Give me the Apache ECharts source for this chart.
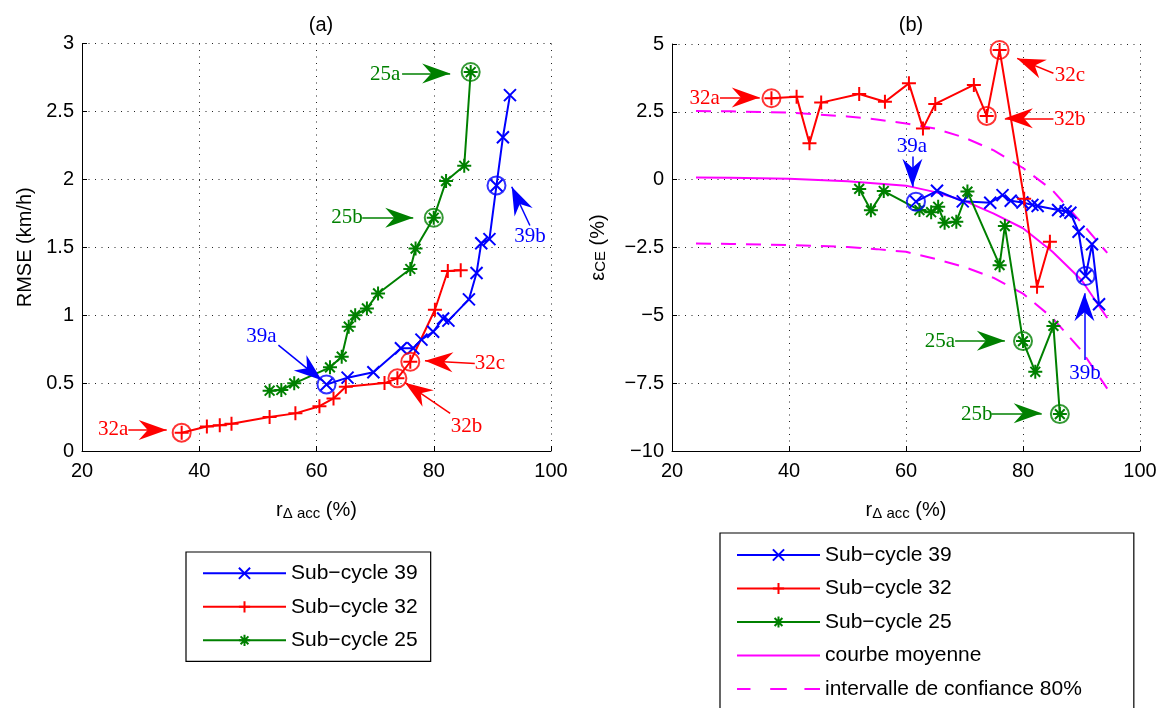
<!DOCTYPE html>
<html><head><meta charset="utf-8">
<script src="https://cdn.jsdelivr.net/npm/echarts@6/dist/echarts.min.js"></script>
<style>html,body{margin:0;padding:0;background:#fff;overflow:hidden;width:1167px;height:708px}#c{width:1167px;height:780px}</style>
</head><body><div id="c"></div>
<script>
// ---------- data ----------
const xTicks = [20, 40, 60, 80, 100];
// Sub-cycle 39
const x39 = [61.7, 65.3, 69.7, 74.4, 76.5, 77.9, 79.9, 81.6, 82.5, 86.0, 87.3, 88.1, 89.5, 90.7, 91.8, 93.0];
const rmse39 = [0.49, 0.54, 0.58, 0.756, 0.756, 0.82, 0.878, 0.976, 0.96, 1.116, 1.31, 1.53, 1.56, 1.955, 2.31, 2.62];
const ece39 = [-0.81, -0.41, -0.80, -0.85, -0.57, -0.78, -0.84, -0.93, -0.97, -1.12, -1.17, -1.22, -1.92, -3.55, -2.38, -4.59];
const mark39 = [0, 13];
// Sub-cycle 32
const x32 = [37.0, 41.3, 43.5, 45.5, 52.0, 56.4, 60.5, 62.9, 65.0, 71.6, 73.8, 76.0, 80.2, 82.4, 84.6];
const rmse32 = [0.135, 0.18, 0.19, 0.20, 0.25, 0.277, 0.33, 0.387, 0.473, 0.50, 0.535, 0.657, 1.04, 1.325, 1.33];
const ece32 = [3.0, 3.06, 1.34, 2.84, 3.16, 2.87, 3.55, 1.89, 2.79, 3.49, 2.35, 4.78, -0.70, -3.95, -2.29];
const mark32 = [0, 10, 11];
// Sub-cycle 25
const x25 = [52.0, 54.0, 56.2, 62.3, 64.3, 65.5, 66.6, 68.6, 70.5, 76.0, 76.9, 80.0, 82.1, 85.2, 86.3];
const rmse25 = [0.444, 0.449, 0.498, 0.616, 0.694, 0.915, 1.0, 1.05, 1.16, 1.34, 1.49, 1.717, 1.987, 2.10, 2.79];
const ece25 = [-0.34, -1.13, -0.42, -1.12, -1.2, -1.0, -1.59, -1.55, -0.44, -3.15, -1.71, -5.95, -7.08, -5.39, -8.64];
const mark25 = [11, 14];
// mean curve and 80% confidence interval
const xFit = [24.1, 30, 40, 50, 55, 60, 65, 70, 75, 80, 85, 90, 94.4];
const meanFit = [0.08, 0.07, 0.03, -0.06, -0.14, -0.22, -0.46, -0.78, -1.25, -1.79, -2.65, -3.7, -5.1];
const upperFit = [2.53, 2.52, 2.47, 2.33, 2.22, 2.07, 1.88, 1.55, 1.08, 0.43, -0.38, -1.59, -2.7];
const lowerFit = [-2.35, -2.37, -2.41, -2.48, -2.56, -2.66, -2.92, -3.22, -3.62, -4.2, -5.09, -6.3, -7.7];
// annotations (text centre, arrow start, arrow tip) in data units
const notesA39 = [['39a', [50.6, 0.84], [53.5, 0.78], [60.9, 0.52]], ['39b', [96.4, 1.577], [96.4, 1.66], [93.3, 1.945]]];
const notesA32 = [['32a', [25.3, 0.155], [27.9, 0.155], [34.45, 0.155]], ['32b', [85.6, 0.179], [82.8, 0.277], [75.1, 0.503]], ['32c', [89.6, 0.645], [87.0, 0.645], [78.5, 0.664]]];
const notesA25 = [['25a', [71.7, 2.774], [74.6, 2.78], [82.8, 2.78]], ['25b', [65.2, 1.717], [67.8, 1.717], [76.5, 1.717]]];
const notesB39 = [['39a', [61.0, 1.21], [61.1, 0.85], [61.1, -0.26]], ['39b', [90.6, -7.14], [90.5, -6.65], [90.5, -4.19]]];
const notesB32 = [['32a', [25.6, 3.0], [28.2, 3.03], [35.0, 3.03]], ['32b', [88.0, 2.22], [85.2, 2.26], [76.9, 2.26]], ['32c', [88.0, 3.857], [85.2, 3.92], [79.0, 4.47]]];
const notesB25 = [['25a', [65.8, -5.97], [68.4, -5.94], [76.9, -5.94]], ['25b', [72.1, -8.64], [74.6, -8.61], [83.2, -8.61]]];

// ---------- styling helpers ----------
const BLUE = '#0000ff', RED = '#ff0000', GREEN = '#008000', MAG = '#ff00ff';
const SYM_X = 'path://M0,0L10,10M10,0L0,10';
const SYM_P = 'path://M5,0L5,10M0,5L10,5';
const SYM_S = 'path://M5,0L5,10M0,5L10,5M1.5,1.5L8.5,8.5M8.5,1.5L1.5,8.5';
const ICON_SOLID = 'path://M0,0h80v2h-80Z';
const ICON_DASH = 'path://M0,0h13v2h-13Z M32,0h16v2h-16Z M65,0h15v2h-15Z';
const ARROW = 'path://M0,-28 M0,0 L10,28 L0,19 L-10,28 Z';
const MINUS = '\u2212';
const N39 = 'Sub' + MINUS + 'cycle 39', N32 = 'Sub' + MINUS + 'cycle 32', N25 = 'Sub' + MINUS + 'cycle 25';
const NMEAN = 'courbe moyenne', NCI = 'intervalle de confiance 80%';
const zip = (xs, ys) => xs.map((x, i) => [x, ys[i]]);
const pick = (xs, ys, idx) => idx.map(i => [xs[i], ys[i]]);

function notes(list, color) {
  return {
    markLine: {
      silent: true, animation: false, symbol: ['none', 'none'], label: { show: false },
      lineStyle: { color: color, width: 1.5, type: 'solid' },
      emphasis: { disabled: true },
      data: list.map(n => [{ coord: n[2], symbol: 'none' }, { coord: n[3], symbol: ARROW, symbolSize: [20, 56] }])
    },
    markPoint: {
      silent: true, animation: false, symbol: 'circle', symbolSize: 1,
      itemStyle: { color: 'rgba(0,0,0,0)' },
      label: { show: true, position: 'inside', formatter: '{b}', color: color, fontFamily: 'Liberation Serif', fontSize: 21 },
      data: list.map(n => ({ name: n[0], coord: n[1] }))
    }
  };
}
function lineSeries(name, g, xs, ys, sym, size, color, nl) {
  return Object.assign({
    name: name, type: 'line', xAxisIndex: g, yAxisIndex: g, data: zip(xs, ys),
    symbol: sym, symbolSize: size, showAllSymbol: true,
    lineStyle: { color: color, width: 2 },
    itemStyle: { color: color, borderColor: color, borderWidth: 2 },
    z: 3
  }, notes(nl, color));
}
function fitSeries(name, ys, dash) {
  return {
    name: name, type: 'line', xAxisIndex: 1, yAxisIndex: 1, data: zip(xFit, ys),
    symbol: 'none',
    lineStyle: { color: MAG, width: 2, type: dash ? [15, 10] : 'solid' },
    itemStyle: { color: MAG }, z: 2
  };
}
function circles(g, xs, ys, idx, color) {
  return {
    name: 'mk' + color + g, type: 'scatter', xAxisIndex: g, yAxisIndex: g, data: pick(xs, ys, idx),
    symbol: 'circle', symbolSize: 18,
    itemStyle: { color: 'rgba(0,0,0,0)', borderColor: color, borderWidth: 2 }, z: 4
  };
}
const font = 'Liberation Sans';
const nameRich = {
  m: { fontSize: 20, fontFamily: font, color: '#000', lineHeight: 20, verticalAlign: 'top' },
  s: { fontSize: 15, fontFamily: font, color: '#000', lineHeight: 15, verticalAlign: 'bottom', padding: [20, 0, 0, 0] }
};
function xAx(g) {
  return {
    gridIndex: g, type: 'value', min: 20, max: 100, interval: 20,
    name: '{m|r}{s|\u0394 acc}{m| (%)}', nameLocation: 'middle', nameGap: 37,
    nameTextStyle: { rich: nameRich },
    axisLine: { show: true, onZero: false, lineStyle: { color: '#000', width: 1 } },
    axisTick: { show: true, inside: true, length: 5, lineStyle: { color: '#000' } },
    axisLabel: { color: '#000', fontSize: 20, fontFamily: font, margin: 10 },
    splitLine: { show: true, lineStyle: { color: '#222', width: 1, type: [1, 5.5] } }
  };
}
function yAx(g, min, max, itv, name, gap, rich) {
  return {
    gridIndex: g, type: 'value', min: min, max: max, interval: itv,
    name: name, nameLocation: 'middle', nameGap: gap,
    nameTextStyle: rich ? { rich: nameRich } : { fontSize: 20, fontFamily: font, color: '#000' },
    axisLine: { show: true, onZero: false, lineStyle: { color: '#000', width: 1 } },
    axisTick: { show: true, inside: true, length: 5, lineStyle: { color: '#000' } },
    axisLabel: { color: '#000', fontSize: 20, fontFamily: font, margin: 8, formatter: v => String(v).replace('-', MINUS) },
    splitLine: { show: true, lineStyle: { color: '#222', width: 1, type: [1, 5.5] } }
  };
}
const legendBase = {
  orient: 'vertical', selectedMode: false, itemWidth: 83, itemHeight: 14, itemGap: 12.5,
  borderColor: '#000', borderWidth: 1.2, backgroundColor: '#fff',
  textStyle: { fontSize: 21, fontFamily: font, color: '#000', lineHeight: 21 }
};

const chart = echarts.init(document.getElementById('c'), null, { renderer: 'canvas' });
chart.setOption({
  animation: false,
  backgroundColor: '#fff',
  title: [
    { text: '(a)', left: 316, top: 10, textAlign: 'center', textStyle: { fontSize: 20, fontWeight: 'normal', fontFamily: font, color: '#000' } },
    { text: '(b)', left: 906, top: 10, textAlign: 'center', textStyle: { fontSize: 20, fontWeight: 'normal', fontFamily: font, color: '#000' } }
  ],
  grid: [
    { left: 82, top: 43.5, width: 469, height: 407.5 },
    { left: 672, top: 44, width: 468, height: 407 }
  ],
  xAxis: [xAx(0), xAx(1)],
  yAxis: [
    yAx(0, 0, 3, 0.5, 'RMSE (km/h)', 47, false),
    yAx(1, -10, 5, 2.5, '{m|\u03b5}{s|CE}{m| (%)}', 64, true)
  ],
  legend: [
    Object.assign({}, legendBase, { id: 'legA', left: 186, top: 552, padding: [10.8, 13, 10.5, 16], data: [N39, N32, N25] }),
    Object.assign({}, legendBase, { id: 'legB', left: 720, top: 533, padding: [11.5, 52, 30, 16],
      data: [N39, N32, N25, { name: NMEAN, icon: ICON_SOLID }, { name: NCI, icon: ICON_DASH }] })
  ],
  series: [
    lineSeries(N39, 0, x39, rmse39, SYM_X, 12, BLUE, notesA39),
    lineSeries(N32, 0, x32, rmse32, SYM_P, 14, RED, notesA32),
    lineSeries(N25, 0, x25, rmse25, SYM_S, 14, GREEN, notesA25),
    circles(0, x39, rmse39, mark39, BLUE),
    circles(0, x32, rmse32, mark32, RED),
    circles(0, x25, rmse25, mark25, GREEN),
    fitSeries(NMEAN, meanFit, false),
    fitSeries(NCI, upperFit, true),
    fitSeries(NCI, lowerFit, true),
    lineSeries(N39, 1, x39, ece39, SYM_X, 12, BLUE, notesB39),
    lineSeries(N32, 1, x32, ece32, SYM_P, 14, RED, notesB32),
    lineSeries(N25, 1, x25, ece25, SYM_S, 14, GREEN, notesB25),
    circles(1, x39, ece39, mark39, BLUE),
    circles(1, x32, ece32, mark32, RED),
    circles(1, x25, ece25, mark25, GREEN)
  ]
});
</script></body></html>
